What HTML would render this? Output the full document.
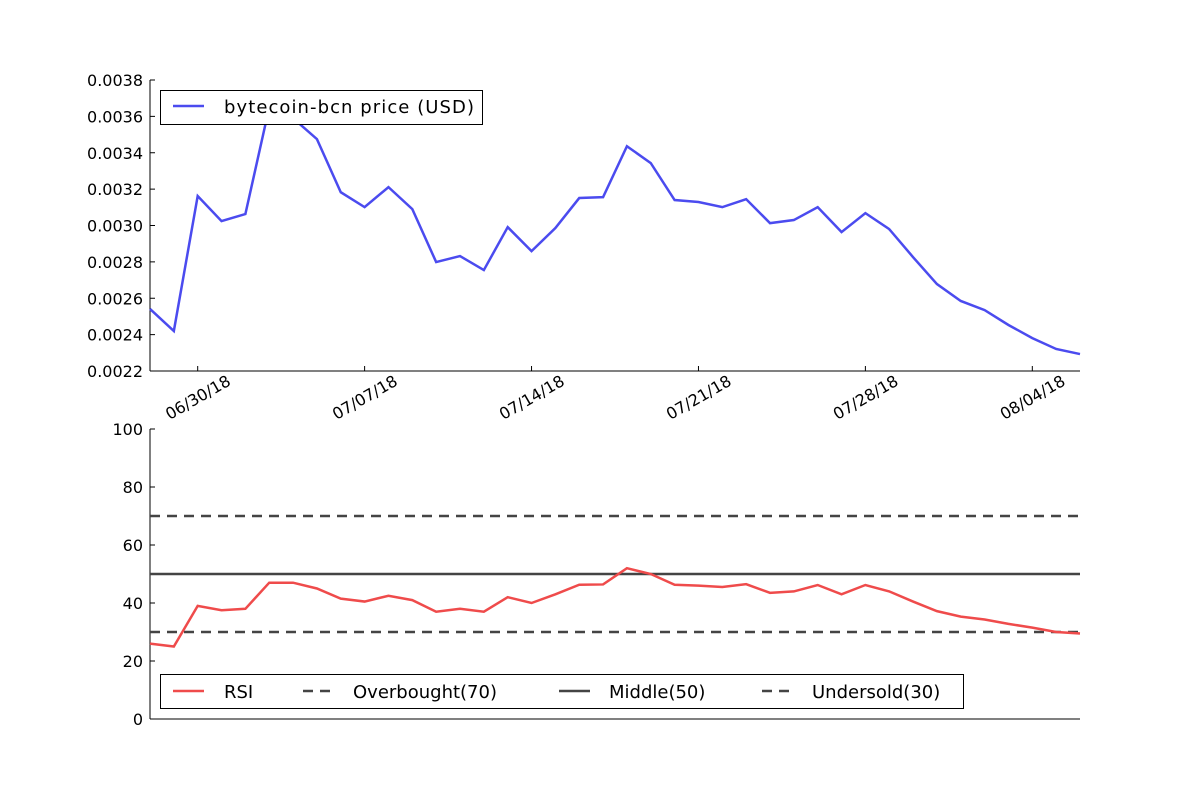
<!DOCTYPE html>
<html><head><meta charset="utf-8"><style>
body{margin:0;background:#fff}
svg text{font-family:"DejaVu Sans","Liberation Sans",sans-serif;fill:#000}
</style></head><body>
<svg id="c" width="1200" height="800" xmlns="http://www.w3.org/2000/svg"></svg>
<script>
const dates=["06/30/18","07/07/18","07/14/18","07/21/18","07/28/18","08/04/18"];
const dateIdx=[2,9,16,23,30,37];
const price=[0.002541,0.00242,0.003162,0.003024,0.003063,0.00365,0.00359,0.003475,0.003183,0.003101,0.003211,0.00309,0.002799,0.002832,0.002755,0.002991,0.002859,0.002986,0.003151,0.003156,0.003436,0.003343,0.00314,0.003129,0.003101,0.003145,0.003013,0.00303,0.003101,0.002964,0.003068,0.00298,0.002826,0.002678,0.002585,0.002535,0.002453,0.002381,0.002321,0.002293];
const rsi=[26,25,39,37.5,38,47,47,45,41.5,40.5,42.5,41,37,38,37,42,40,43,46.3,46.4,52,50,46.3,46,45.5,46.5,43.5,44,46.2,43,46.2,44,40.5,37.2,35.3,34.3,32.8,31.5,30,29.5];
const priceTicks=["0.0022","0.0024","0.0026","0.0028","0.0030","0.0032","0.0034","0.0036","0.0038"];
const rsiTicks=[0,20,40,60,80,100];
const levels=[70,50,30];

const svg=document.getElementById('c');
const NS="http://www.w3.org/2000/svg";
function mk(t,a,parent){const e=document.createElementNS(NS,t);for(const k in a)e.setAttribute(k,a[k]);(parent||svg).appendChild(e);return e;}
const X0=150,X1=1080,n=price.length;
const x=i=>X0+(X1-X0)*i/(n-1);
const yP=v=>371-(v-0.0022)/(0.0038-0.0022)*291;
const yR=v=>719-v/100*290;

let g=mk('g',{});


mk('line',{x1:150,y1:80,x2:150,y2:371,stroke:'#000','stroke-width':1},g);
mk('line',{x1:150,y1:371,x2:1080,y2:371,stroke:'#000','stroke-width':1},g);
priceTicks.forEach(t=>{const y=yP(parseFloat(t));
 mk('line',{x1:150,y1:y,x2:155,y2:y,stroke:'#000'},g);
 const tx=mk('text',{x:143,y:y+6,'text-anchor':'end','font-size':16},g);tx.textContent=t;
 
 });
dates.forEach((d,k)=>{const xx=x(dateIdx[k]);
 mk('line',{x1:xx,y1:371,x2:xx,y2:366,stroke:'#000'},g);
 const tx=mk('text',{x:xx,y:403,'text-anchor':'middle','font-size':16,transform:`rotate(-30 ${xx} 397)`},g);tx.textContent=d;
 
 });
const pl=mk('polyline',{points:price.map((v,i)=>x(i)+','+yP(v)).join(' '),fill:'none',stroke:'#4b4bef','stroke-width':2.5});


let lg=mk('g',{});


mk('rect',{x:160.5,y:90.5,width:322,height:34,fill:'#fff',stroke:'#000'},lg);
mk('line',{x1:173,y1:106,x2:204,y2:106,stroke:'#4b4bef','stroke-width':2.5},lg);
let lt=mk('text',{x:224,y:113,'font-size':18,textLength:250},lg);lt.textContent='bytecoin-bcn price (USD)';

let g2=mk('g',{});


mk('line',{x1:150,y1:429,x2:150,y2:719,stroke:'#000'},g2);
mk('line',{x1:150,y1:719,x2:1080,y2:719,stroke:'#000'},g2);
rsiTicks.forEach(t=>{const y=yR(t);
 mk('line',{x1:150,y1:y,x2:155,y2:y,stroke:'#000'},g2);
 const tx=mk('text',{x:143,y:y+6,'text-anchor':'end','font-size':16},g2);tx.textContent=t;
 
 });
levels.forEach(l=>{const ln=mk('line',{x1:150,y1:yR(l),x2:1080,y2:yR(l),stroke:'#444','stroke-width':2.5,'stroke-dasharray':l===50?'':'10,7'});
 
 });
const rl=mk('polyline',{points:rsi.map((v,i)=>x(i)+','+yR(v)).join(' '),fill:'none',stroke:'#ef4b4b','stroke-width':2.5});


let lg2=mk('g',{});


mk('rect',{x:160.5,y:674.5,width:803,height:34,fill:'#fff',stroke:'#000'},lg2);
const items=[['RSI','#ef4b4b','',173,224],['Overbought(70)','#444','10,7',303,353],['Middle(50)','#444','',559,609],['Undersold(30)','#444','10,7',762,812]];
items.forEach(it=>{mk('line',{x1:it[3],y1:691,x2:it[3]+31,y2:691,stroke:it[1],'stroke-width':2.5,'stroke-dasharray':it[2]},lg2);
 const t=mk('text',{x:it[4],y:698,'font-size':18},lg2);t.textContent=it[0];});
</script>
</body></html>
